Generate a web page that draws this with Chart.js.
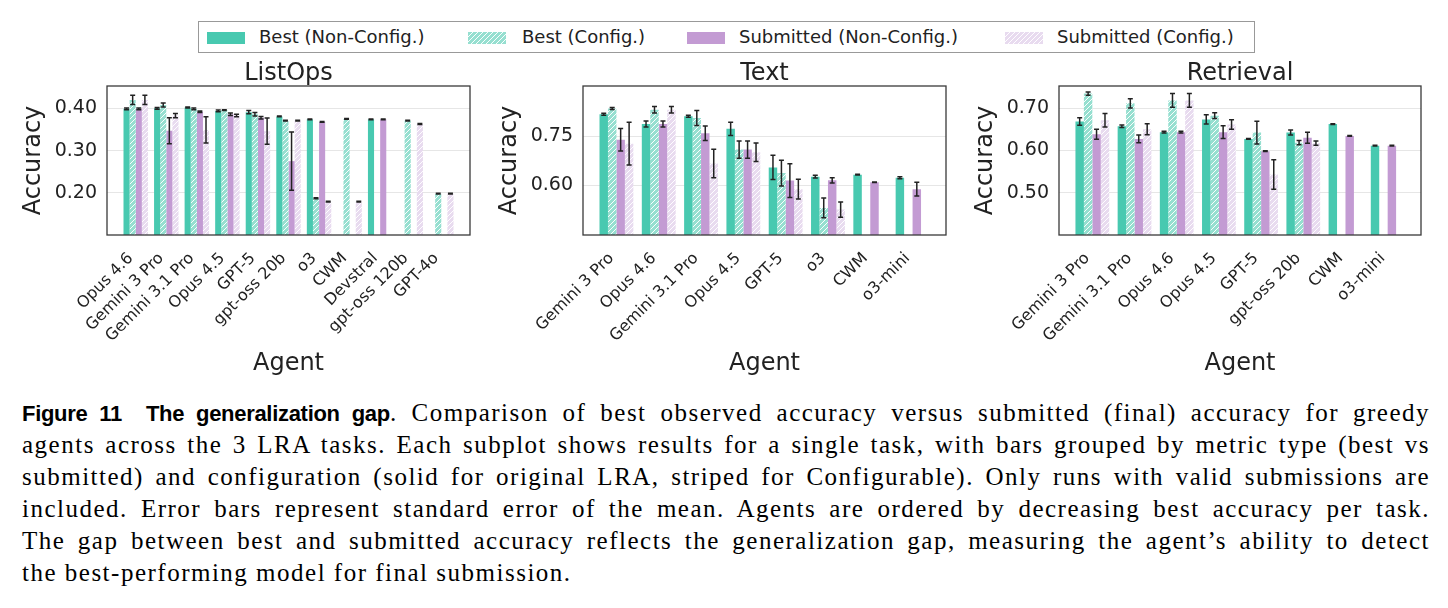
<!DOCTYPE html>
<html><head><meta charset="utf-8">
<script src="https://cdn.jsdelivr.net/npm/chart.js@4.4.1/dist/chart.umd.min.js"></script>
<style>
body{margin:0;background:#fff;width:1448px;height:608px;overflow:hidden;position:relative;font-family:'DejaVu Sans',sans-serif;color:#222}
canvas.chart{position:absolute;top:49px}
#legend{position:absolute;left:198px;top:21px;width:1057px;height:32px;border:1px solid #999;box-sizing:border-box}
#legend canvas{position:absolute;top:10px}
.lt{position:absolute;top:0;line-height:30px;font-size:18px;white-space:nowrap;color:#222}
.cap{position:absolute;left:22px;height:32px;line-height:32px;font-family:'Liberation Serif','Times New Roman','DejaVu Serif',serif;font-size:25px;white-space:nowrap;color:#000}
.cap b{font-family:'Liberation Sans','Arial','DejaVu Sans',sans-serif;font-size:22px;letter-spacing:-0.3px}
</style></head>
<body>
<div id="legend">
  <canvas id="sw0" width="38" height="12" style="left:8px"></canvas><span class="lt" style="left:60px">Best (Non-Config.)</span>
  <canvas id="sw1" width="38" height="12" style="left:269px"></canvas><span class="lt" style="left:323px">Best (Config.)</span>
  <canvas id="sw2" width="38" height="12" style="left:488px"></canvas><span class="lt" style="left:540px">Submitted (Non-Config.)</span>
  <canvas id="sw3" width="38" height="12" style="left:806px"></canvas><span class="lt" style="left:858px">Submitted (Config.)</span>
</div>
<canvas class="chart" id="c1" width="476" height="341" style="left:0px"></canvas>
<canvas class="chart" id="c2" width="476" height="341" style="left:476px"></canvas>
<canvas class="chart" id="c3" width="496" height="341" style="left:952px"></canvas>
<div class="cap" data-j="1" style="top:397px"><b>Figure 11&nbsp;&nbsp;The generalization gap</b>. Comparison of best observed accuracy versus submitted (final) accuracy for greedy</div>
<div class="cap" data-j="1" style="top:429px">agents across the 3 LRA tasks. Each subplot shows results for a single task, with bars grouped by metric type (best vs</div>
<div class="cap" data-j="1" style="top:461px">submitted) and configuration (solid for original LRA, striped for Configurable). Only runs with valid submissions are</div>
<div class="cap" data-j="1" style="top:493px">included. Error bars represent standard error of the mean. Agents are ordered by decreasing best accuracy per task.</div>
<div class="cap" data-j="1" style="top:525px">The gap between best and submitted accuracy reflects the generalization gap, measuring the agent’s ability to detect</div>
<div class="cap" data-j="0" style="top:557px">the best-performing model for final submission.</div>
<script>
// ---------- data ----------
const seriesNames = ['Best (Non-Config.)', 'Best (Config.)', 'Submitted (Non-Config.)', 'Submitted (Config.)'];

// ListOps
const listopsAgents = ['Opus 4.6','Gemini 3 Pro','Gemini 3.1 Pro','Opus 4.5','GPT-5','gpt-oss 20b','o3','CWM','Devstral','gpt-oss 120b','GPT-4o'];
const listopsBestNC    = [0.399, 0.400, 0.402, 0.394, 0.391, 0.381, 0.374, null, 0.374, null, null];
const listopsBestNCErr = [0.002, 0.002, 0.001, 0.002, 0.004, 0.001, 0.001, 0, 0.001, 0, 0];
const listopsBestC     = [0.420, 0.408, 0.399, 0.396, 0.386, 0.371, 0.187, 0.375, null, 0.371, 0.198];
const listopsBestCErr  = [0.011, 0.005, 0.002, 0.001, 0.004, 0.001, 0.001, 0.001, 0, 0.001, 0.001];
const listopsSubNC     = [0.399, 0.347, 0.392, 0.386, 0.378, 0.275, 0.368, null, 0.374, null, null];
const listopsSubNCErr  = [0.002, 0.031, 0.002, 0.003, 0.003, 0.069, 0.001, 0, 0.001, 0, 0];
const listopsSubC      = [0.420, 0.383, 0.349, 0.383, 0.346, 0.371, 0.179, 0.179, null, 0.363, 0.198];
const listopsSubCErr   = [0.011, 0.005, 0.031, 0.003, 0.031, 0.001, 0.001, 0.001, 0, 0.001, 0.001];
const listopsYTicks = [0.20, 0.30, 0.40];
const listopsYRange = [0.10, 0.453];

// Text
const textAgents = ['Gemini 3 Pro','Opus 4.6','Gemini 3.1 Pro','Opus 4.5','GPT-5','o3','CWM','o3-mini'];
const textBestNC    = [0.816, 0.787, 0.810, 0.772, 0.655, 0.627, 0.633, 0.624];
const textBestNCErr = [0.003, 0.009, 0.003, 0.020, 0.037, 0.004, 0.001, 0.003];
const textBestC     = [0.834, 0.830, 0.805, 0.709, 0.638, 0.532, null, null];
const textBestCErr  = [0.003, 0.010, 0.023, 0.026, 0.039, 0.030, 0, 0];
const textSubNC     = [0.739, 0.787, 0.759, 0.709, 0.615, 0.616, 0.610, 0.589];
const textSubNCErr  = [0.034, 0.009, 0.022, 0.026, 0.051, 0.008, 0.001, 0.021];
const textSubC      = [0.727, 0.830, 0.667, 0.701, 0.589, 0.527, null, null];
const textSubCErr   = [0.065, 0.010, 0.043, 0.028, 0.030, 0.023, 0, 0];
const textYTicks = [0.60, 0.75];
const textYRange = [0.45, 0.902];

// Retrieval
const retrievalAgents = ['Gemini 3 Pro','Gemini 3.1 Pro','Opus 4.6','Opus 4.5','GPT-5','gpt-oss 20b','CWM','o3-mini'];
const retrievalBestNC    = [0.668, 0.657, 0.643, 0.673, 0.627, 0.642, 0.662, 0.611];
const retrievalBestNCErr = [0.009, 0.003, 0.002, 0.011, 0.001, 0.006, 0.001, 0.001];
const retrievalBestC     = [0.734, 0.711, 0.718, 0.682, 0.642, 0.618, null, null];
const retrievalBestCErr  = [0.004, 0.011, 0.016, 0.007, 0.027, 0.005, 0, 0];
const retrievalSubNC     = [0.638, 0.627, 0.643, 0.643, 0.598, 0.630, 0.634, 0.611];
const retrievalSubNCErr  = [0.012, 0.009, 0.002, 0.015, 0.001, 0.013, 0.001, 0.001];
const retrievalSubC      = [0.671, 0.650, 0.718, 0.661, 0.543, 0.617, null, null];
const retrievalSubCErr   = [0.016, 0.013, 0.016, 0.011, 0.035, 0.005, 0, 0];
const retrievalYTicks = [0.50, 0.60, 0.70];
const retrievalYRange = [0.40, 0.752];

// ---------- styles ----------
const GREEN = '#48c9b0';
const PURPLE = '#c39bd3';
const GREEN_LIGHT = 'rgb(150,223,208)';
const PURPLE_LIGHT = 'rgb(232,219,239)';
const FONT = 'DejaVu Sans';
const INK = '#222';

function hatch(bg) {
  const s = 5;
  const c = document.createElement('canvas');
  c.width = s; c.height = s;
  const x = c.getContext('2d');
  x.fillStyle = bg; x.fillRect(0, 0, s, s);
  x.strokeStyle = 'rgba(255,255,255,0.95)';
  x.lineWidth = 1;
  x.beginPath();
  x.moveTo(0, s); x.lineTo(s, 0);
  x.moveTo(-1, 1); x.lineTo(1, -1);
  x.moveTo(s - 1, s + 1); x.lineTo(s + 1, s - 1);
  x.stroke();
  return x.createPattern(c, 'repeat');
}
const fills = [GREEN, hatch(GREEN_LIGHT), PURPLE, hatch(PURPLE_LIGHT)];

fills.forEach((f, i) => {
  const ctx = document.getElementById('sw' + i).getContext('2d');
  ctx.fillStyle = f; ctx.fillRect(0, 0, 38, 12);
});

const errorAndFrame = {
  id: 'errorAndFrame',
  afterDatasetsDraw(chart) {
    const ctx = chart.ctx;
    const ys = chart.scales.y;
    ctx.save();
    ctx.strokeStyle = INK;
    ctx.lineWidth = 1.5;
    chart.data.datasets.forEach((ds, d) => {
      const meta = chart.getDatasetMeta(d);
      meta.data.forEach((el, i) => {
        const v = ds.data[i].y;
        if (v == null) return;
        const e = ds.errors[i] || 0;
        const y1 = ys.getPixelForValue(v + e), y2 = ys.getPixelForValue(v - e);
        const x = el.x, cw = 2.5;
        ctx.beginPath();
        ctx.moveTo(x, y1); ctx.lineTo(x, y2);
        ctx.moveTo(x - cw, y1); ctx.lineTo(x + cw, y1);
        ctx.moveTo(x - cw, y2); ctx.lineTo(x + cw, y2);
        ctx.stroke();
      });
    });
    const a = chart.chartArea;
    ctx.strokeStyle = '#3a3a3a';
    ctx.lineWidth = 1.3;
    ctx.strokeRect(a.left, a.top, a.right - a.left, a.bottom - a.top);
    ctx.restore();
  }
};

function panel(id, canvasLeft, canvasWidth, plotLeft, plotRight, title, agents, series, errs, yRange, yTicks) {
  const n = agents.length;
  const xMin = -0.4 - 0.05 * (n - 1 + 0.8);
  const xMax = n - 1 + 0.4 + 0.05 * (n - 1 + 0.8);
  const datasets = series.map((vals, k) => ({
    label: seriesNames[k],
    data: agents.map((a, i) => ({ x: i, y: vals[i] })),
    errors: errs[k],
    backgroundColor: fills[k],
    borderWidth: 0,
    categoryPercentage: 0.8,
    barPercentage: 1.0
  }));
  return new Chart(document.getElementById(id), {
    type: 'bar',
    data: { datasets },
    plugins: [errorAndFrame],
    options: {
      responsive: false, animation: false, devicePixelRatio: 1,
      layout: { padding: { left: 0, top: 0, bottom: 0, right: canvasWidth - (plotRight - canvasLeft) } },
      plugins: {
        legend: { display: false }, tooltip: { enabled: false },
        title: { display: true, fullSize: false, text: title, color: INK,
          font: { family: FONT, size: 24, weight: 'normal', lineHeight: 1 },
          padding: { top: 13, bottom: 0 } }
      },
      scales: {
        x: {
          type: 'linear', min: xMin, max: xMax, offset: false,
          afterBuildTicks: s => { s.ticks = agents.map((a, i) => ({ value: i })); },
          afterFit: s => { s.height = 155; },
          grid: { display: false }, border: { display: false },
          ticks: { autoSkip: false, maxRotation: 45, minRotation: 45, padding: 6, labelOffset: -5, color: INK,
            font: { family: FONT, size: 16 }, callback: v => agents[v] },
          title: { display: true, text: 'Agent', color: INK,
            font: { family: FONT, size: 24 }, padding: { top: 0, bottom: 12 } }
        },
        y: {
          type: 'linear', min: yRange[0], max: yRange[1],
          afterBuildTicks: s => { s.ticks = yTicks.map(v => ({ value: v })); },
          afterFit: s => { s.width = plotLeft - canvasLeft; },
          grid: { color: '#e6e6e6', lineWidth: 1, drawTicks: false }, border: { display: false },
          ticks: { padding: 10, color: INK, font: { family: FONT, size: 19 }, callback: v => v.toFixed(2) },
          title: { display: true, text: 'Accuracy', color: INK,
            font: { family: FONT, size: 24 }, padding: { top: 19, bottom: 0 } }
        }
      }
    }
  });
}

panel('c1', 0, 476, 107, 470, 'ListOps', listopsAgents,
  [listopsBestNC, listopsBestC, listopsSubNC, listopsSubC],
  [listopsBestNCErr, listopsBestCErr, listopsSubNCErr, listopsSubCErr], listopsYRange, listopsYTicks);
panel('c2', 476, 476, 583, 946, 'Text', textAgents,
  [textBestNC, textBestC, textSubNC, textSubC],
  [textBestNCErr, textBestCErr, textSubNCErr, textSubCErr], textYRange, textYTicks);
panel('c3', 952, 496, 1059, 1421, 'Retrieval', retrievalAgents,
  [retrievalBestNC, retrievalBestC, retrievalSubNC, retrievalSubC],
  [retrievalBestNCErr, retrievalBestCErr, retrievalSubNCErr, retrievalSubCErr], retrievalYRange, retrievalYTicks);

// justify caption lines to a fixed width (after fonts are ready)
const CAP_W = 1408, LAST_W = 555;
function layoutCaption() {
  const caps = Array.from(document.querySelectorAll('.cap'));
  caps.forEach(el => { el.style.letterSpacing = '0px'; el.style.wordSpacing = '0px'; });
  const last = caps[caps.length - 1];
  const w0 = last.getBoundingClientRect().width;
  const ls = Math.max(0, Math.min(1.5, (LAST_W - w0) / last.textContent.length));
  caps.forEach(el => {
    el.style.letterSpacing = ls + 'px';
    if (el.dataset.j !== '1') return;
    const spaces = (el.textContent.match(/[ \u00a0]/g) || []).length;
    let w = el.getBoundingClientRect().width;
    if (w > CAP_W - spaces) {
      const ls2 = ls - (w - CAP_W + 2 * spaces) / el.textContent.length;
      el.style.letterSpacing = ls2 + 'px';
      w = el.getBoundingClientRect().width;
    }
    el.style.wordSpacing = ((CAP_W - w) / spaces) + 'px';
  });
}
layoutCaption();
if (document.fonts && document.fonts.ready) document.fonts.ready.then(layoutCaption);
</script>
</body></html>
